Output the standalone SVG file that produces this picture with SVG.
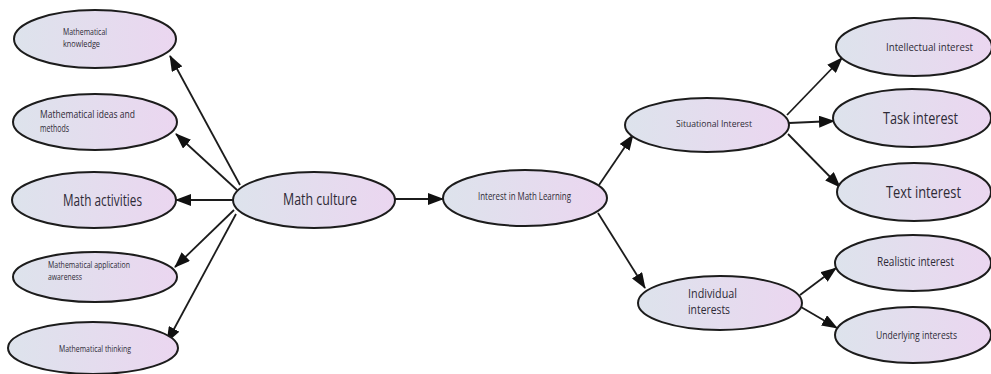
<svg xmlns="http://www.w3.org/2000/svg" width="991" height="374" viewBox="0 0 991 374">
  <defs>
    <linearGradient id="fill" x1="0" y1="0" x2="1" y2="0">
      <stop offset="0" stop-color="#dde3ec"/>
      <stop offset="1" stop-color="#ebd6f0"/>
    </linearGradient>
    <marker id="arrow" markerUnits="userSpaceOnUse" markerWidth="16" markerHeight="12" viewBox="0 0 16 12" refX="15" refY="6" orient="auto">
      <path d="M0,0 L16,6 L0,12 Z" fill="#111"/>
    </marker>
    <style>
      .node ellipse { fill: url(#fill); stroke: #1c1c1c; stroke-width: 2; }
      .node text { font-family: "Liberation Sans Narrow", "Open Sans", sans-serif; fill: #2e2a36; }
      .s9 { font-size: 9px; }
      .s10 { font-size: 10px; }
      .s11 { font-size: 11px; }
      .s12 { font-size: 12.5px; }
      .s13 { font-size: 12px; }
      .s16 { font-size: 17px; }
      #connectors line { stroke: #1c1c1c; stroke-width: 1.8; marker-end: url(#arrow); }
    </style>
  </defs>
  <rect width="991" height="374" fill="#ffffff"/>

  <!-- connectors -->
  <g id="connectors">
    <line x1="240" y1="185" x2="170" y2="56"/>
    <line x1="237" y1="190" x2="176" y2="134"/>
    <line x1="233" y1="200" x2="176" y2="200"/>
    <line x1="234" y1="210" x2="175" y2="267"/>
    <line x1="236" y1="214" x2="167" y2="342"/>
    <line x1="395" y1="199" x2="443" y2="199"/>
    <line x1="599" y1="185" x2="633" y2="135"/>
    <line x1="598" y1="213" x2="645" y2="288"/>
    <line x1="787" y1="115" x2="842" y2="58"/>
    <line x1="789" y1="123" x2="834" y2="121"/>
    <line x1="788" y1="134" x2="840" y2="187"/>
    <line x1="800" y1="295" x2="836" y2="268"/>
    <line x1="801" y1="307" x2="837" y2="328"/>
  </g>

  <!-- left branch -->
  <g id="n-knowledge" class="node">
    <ellipse cx="95" cy="39" rx="81" ry="29"/>
    <text class="s9" x="63" y="35" textLength="44" lengthAdjust="spacingAndGlyphs">Mathematical</text>
    <text class="s9" x="63" y="47" textLength="37" lengthAdjust="spacingAndGlyphs">knowledge</text>
  </g>
  <g id="n-ideas" class="node">
    <ellipse cx="95" cy="122" rx="82" ry="28"/>
    <text class="s11" x="40" y="118" textLength="95" lengthAdjust="spacingAndGlyphs">Mathematical ideas and</text>
    <text class="s11" x="40" y="132" textLength="29" lengthAdjust="spacingAndGlyphs">methods</text>
  </g>
  <g id="n-activities" class="node">
    <ellipse cx="94" cy="200" rx="82" ry="28"/>
    <text class="s16" x="63" y="206" textLength="79" lengthAdjust="spacingAndGlyphs">Math activities</text>
  </g>
  <g id="n-application" class="node">
    <ellipse cx="95" cy="277" rx="82" ry="25"/>
    <text class="s9" x="48" y="268" textLength="82" lengthAdjust="spacingAndGlyphs">Mathematical application</text>
    <text class="s9" x="48" y="280" textLength="34" lengthAdjust="spacingAndGlyphs">awareness</text>
  </g>
  <g id="n-thinking" class="node">
    <ellipse cx="93" cy="348" rx="85" ry="26"/>
    <text class="s9" x="59" y="352" textLength="72" lengthAdjust="spacingAndGlyphs">Mathematical thinking</text>
  </g>

  <!-- centre -->
  <g id="n-culture" class="node">
    <ellipse cx="314" cy="200" rx="81" ry="28"/>
    <text class="s16" x="283" y="205" textLength="74" lengthAdjust="spacingAndGlyphs">Math culture</text>
  </g>
  <g id="n-interest" class="node">
    <ellipse cx="525" cy="198" rx="82" ry="28"/>
    <text class="s10" x="478" y="200" textLength="93" lengthAdjust="spacingAndGlyphs">Interest in Math Learning</text>
  </g>

  <!-- right branch -->
  <g id="n-situational" class="node">
    <ellipse cx="707" cy="125" rx="82" ry="27"/>
    <text class="s9" x="676" y="127" textLength="76" lengthAdjust="spacingAndGlyphs">Situational Interest</text>
  </g>
  <g id="n-individual" class="node">
    <ellipse cx="720" cy="303" rx="82" ry="27"/>
    <text class="s13" x="688" y="298" textLength="49" lengthAdjust="spacingAndGlyphs">Individual</text>
    <text class="s13" x="688" y="314" textLength="42" lengthAdjust="spacingAndGlyphs">interests</text>
  </g>
  <g id="n-intellectual" class="node">
    <ellipse cx="914" cy="47" rx="78" ry="29"/>
    <text class="s10" x="886" y="51" textLength="87" lengthAdjust="spacingAndGlyphs">Intellectual interest</text>
  </g>
  <g id="n-task" class="node">
    <ellipse cx="912" cy="118" rx="79" ry="29"/>
    <text class="s16" x="883" y="124" textLength="75" lengthAdjust="spacingAndGlyphs">Task interest</text>
  </g>
  <g id="n-text" class="node">
    <ellipse cx="914" cy="192" rx="77" ry="29"/>
    <text class="s16" x="886" y="198" textLength="75" lengthAdjust="spacingAndGlyphs">Text interest</text>
  </g>
  <g id="n-realistic" class="node">
    <ellipse cx="913" cy="263" rx="78" ry="28"/>
    <text class="s12" x="877" y="266" textLength="77" lengthAdjust="spacingAndGlyphs">Realistic interest</text>
  </g>
  <g id="n-underlying" class="node">
    <ellipse cx="913" cy="335" rx="78" ry="28"/>
    <text class="s10" x="876" y="339" textLength="81" lengthAdjust="spacingAndGlyphs">Underlying interests</text>
  </g>
</svg>
